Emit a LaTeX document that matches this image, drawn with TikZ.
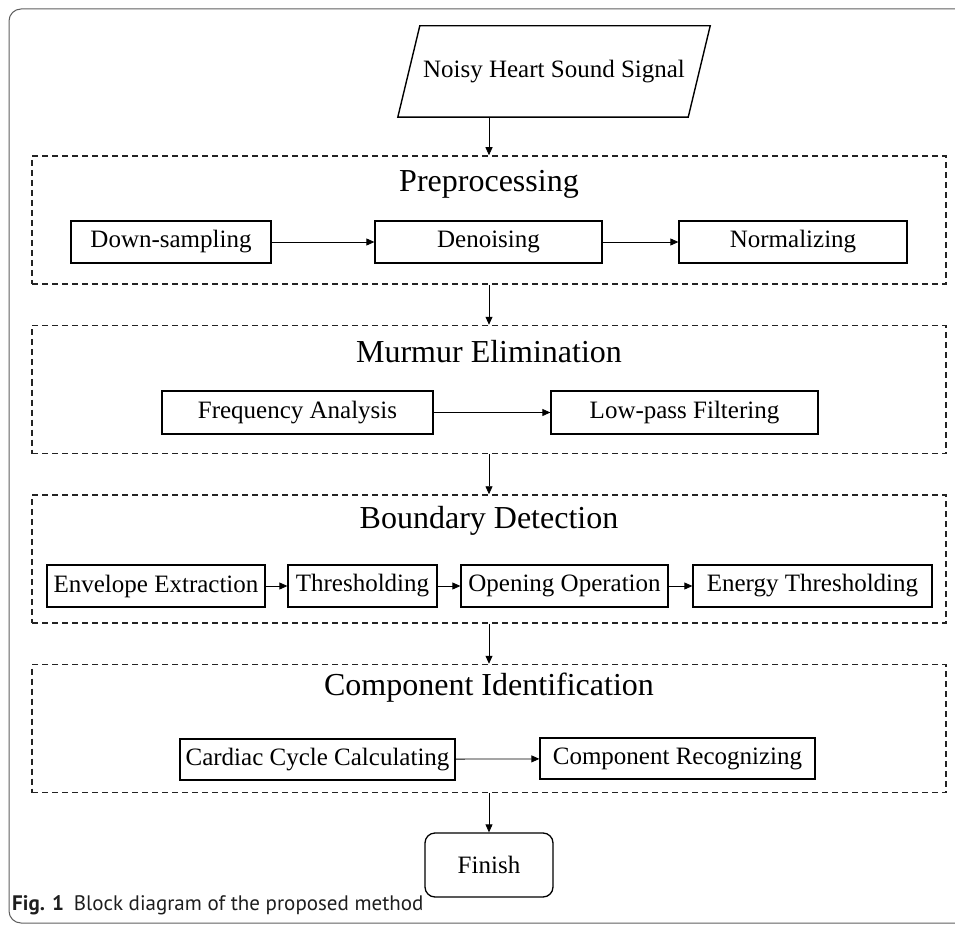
\documentclass[tikz,border=0pt]{standalone}
\usepackage{fontspec}
\setmainfont{Liberation Serif}
\newfontfamily\capfont{PT Sans}
\usetikzlibrary{positioning,arrows.meta}
\definecolor{framegray}{RGB}{95,95,95}
\definecolor{dashgray}{RGB}{35,35,35}
\definecolor{capink}{RGB}{30,30,30}
\tikzset{
  stage/.style={draw=dashgray,line width=1.5pt,dash pattern=on 6pt off 4pt,minimum width=914pt,minimum height=128pt,inner sep=0pt},
  blk/.style={draw,line width=1.3pt,inner sep=0pt,minimum height=42pt,font=\fontsize{25}{30}\selectfont},
  io/.style={inner sep=0pt,minimum width=290pt,minimum height=91pt,font=\fontsize{25}{30}\selectfont},
  ioline/.style={line width=1.4pt,line join=miter},
  term/.style={draw,line width=1.3pt,rounded corners=10pt,minimum width=128pt,minimum height=64pt,font=\fontsize{25}{30}\selectfont},
  ttl/.style={font=\fontsize{32}{38}\selectfont},
  flow/.style={-{Triangle[length=8pt,width=7pt]},line width=0.8pt},
  frame/.style={draw=framegray,line width=1pt,rounded corners=12pt}
}

\begin{document}
\begin{tikzpicture}[x=1pt,y=-1pt]
  \clip (0,0) rectangle (955,925);
  \draw[frame] (9,9) rectangle (990,923);
  \node[io] (sig) at (554,71.5) {Noisy Heart Sound Signal};
  \draw[ioline] ([xshift=11pt]sig.north west) -- ([xshift=11pt]sig.north east) -- ([xshift=-11pt]sig.south east) -- ([xshift=-11pt]sig.south west) -- cycle;
  % dashed stages with their titles
  \foreach \n/\y/\ty/\t in {pre/220/184/Preprocessing,mur/389.5/352/Murmur Elimination,bnd/559/521/Boundary Detection,cmp/728.5/688/Component Identification}{
    \node[stage] (\n) at (489,\y) {};
    \node[ttl] (\n t) at (489,\ty) {\t};}
  % Preprocessing
  \node[blk,minimum width=200pt] (ds) at (171,242) {Down-sampling};
  \node[blk,minimum width=227pt] (dn) at (488.5,242) {Denoising};
  \node[blk,minimum width=228pt] (nm) at (793,242) {Normalizing};
  % Murmur Elimination
  \node[blk,minimum width=271pt,minimum height=43pt] (fa) at (297.5,412.5) {Frequency Analysis};
  \node[blk,minimum width=267pt,minimum height=43pt] (lp) at (684.5,412.5) {Low-pass Filtering};
  % Boundary Detection
  \node[blk,minimum width=218pt] (ee) at (156,586) {Envelope Extraction};
  \node[blk,minimum width=149pt] (th) at (362.5,586) {Thresholding};
  \node[blk,minimum width=207pt] (oo) at (564.5,586) {Opening Operation};
  \node[blk,minimum width=239pt] (et) at (812.5,586) {Energy Thresholding};
  % Component Identification
  \node[blk,minimum width=275pt,minimum height=41pt] (cc) at (317.5,759.5) {Cardiac Cycle Calculating};
  \node[blk,minimum width=275pt,minimum height=41pt] (cr) at (677.5,758.5) {Component Recognizing};
  \node[term] (fin) at (489,865) {Finish};
  \draw[flow] (pre.north |- sig.south) -- (pre.north);
  \foreach \a/\b in {pre/mur,mur/bnd,bnd/cmp,cmp/fin}{\draw[flow] (\a.south) -- (\b.north);}
  \foreach \a/\b in {ds/dn,dn/nm,fa/lp,ee/th,th/oo,oo/et,cc/cr}{\draw[flow] (\a) -- (\b);}
  \node[anchor=west,text=capink,inner sep=0pt,font=\capfont\fontsize{21}{25}\selectfont] (cap) at (12,905) {\textbf{Fig. 1}\hspace{10pt}Block diagram of the proposed method};
\end{tikzpicture}
\end{document}
